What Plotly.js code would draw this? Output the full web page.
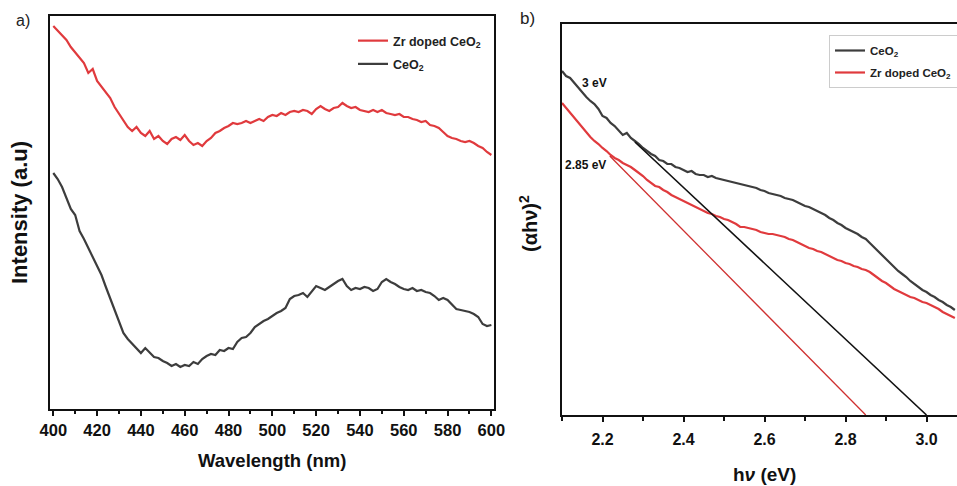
<!DOCTYPE html>
<html>
<head>
<meta charset="utf-8">
<script src="https://cdn.plot.ly/plotly-3.0.1.min.js"></script>
<style>html,body{margin:0;padding:0;background:#fff;}#chart{width:957px;height:486px;}</style>
</head>
<body>
<div id="chart"></div>
<script>
// ---------- Panel a) : emission spectra ----------
const wavelength = [400,402,404,406,408,410,412,414,416,418,420,422,424,426,428,430,432,434,436,438,440,442,444,446,448,450,452,454,456,458,460,462,464,466,468,470,472,474,476,478,480,482,484,486,488,490,492,494,496,498,500,502,504,506,508,510,512,514,516,518,520,522,524,526,528,530,532,534,536,538,540,542,544,546,548,550,552,554,556,558,560,562,564,566,568,570,572,574,576,578,580,582,584,586,588,590,592,594,596,598,600];
const zrDopedA = [383,378,374,369,362,357,352,346,336,340,328,322,317,311,302,295,289,282,278,282,276,273,278,270,273,268,265,270,272,269,274,268,264,266,263,268,271,276,278,281,283,286,285,286,288,286,288,290,288,292,294,293,296,294,297,298,297,299,298,295,300,303,300,298,301,302,306,303,301,302,299,298,297,299,297,299,296,295,294,295,292,292,290,289,287,288,284,283,281,277,273,271,270,268,267,268,266,263,261,257,254];
const ceo2A = [236,230,222,211,200,194,178,170,161,151,143,134,122,110,98,87,76,70,65,60,56,61,57,52,51,48,46,43,45,42,44,43,47,45,50,53,55,54,59,58,61,60,67,71,72,76,82,85,88,90,93,96,98,101,110,113,114,116,112,118,123,121,119,122,125,128,130,123,119,121,120,122,121,118,120,127,130,127,125,122,120,119,121,118,119,117,116,113,109,111,109,104,100,99,98,97,95,92,85,83,84];
const wlTicks = [400,420,440,460,480,500,520,540,560,580,600];

// ---------- Panel b) : Tauc plot ----------
const energy = [2.10,2.11,2.12,2.13,2.14,2.15,2.16,2.17,2.18,2.19,2.20,2.21,2.22,2.23,2.24,2.25,2.26,2.27,2.28,2.29,2.30,2.31,2.32,2.33,2.34,2.35,2.36,2.37,2.38,2.39,2.40,2.41,2.42,2.43,2.44,2.45,2.46,2.47,2.48,2.49,2.50,2.51,2.52,2.53,2.54,2.55,2.56,2.57,2.58,2.59,2.60,2.61,2.62,2.63,2.64,2.65,2.66,2.67,2.68,2.69,2.70,2.71,2.72,2.73,2.74,2.75,2.76,2.77,2.78,2.79,2.80,2.81,2.82,2.83,2.84,2.85,2.86,2.87,2.88,2.89,2.90,2.91,2.92,2.93,2.94,2.95,2.96,2.97,2.98,2.99,3.00,3.01,3.02,3.03,3.04,3.05,3.06,3.07];
const ceo2B = [344,339,337,332,328,322,318,314,311,306,299,297,292,289,284,280,282,277,274,271,267,264,261,259,255,254,251,251,248,247,245,243,244,241,240,240,238,239,237,236,235,234,233,232,231,230,229,228,227,225,224,222,221,220,219,217,216,215,213,211,209,208,206,204,202,200,197,195,192,190,187,185,183,181,178,176,172,168,164,159,155,151,147,144,141,138,134,131,128,125,123,120,118,115,113,110,108,105];
const zrDopedB = [312,307,302,297,292,287,283,278,274,271,267,264,260,257,255,252,250,248,245,242,239,235,232,229,228,225,223,220,218,216,214,212,210,208,206,204,202,201,199,198,196,195,193,191,188,188,187,186,185,183,182,181,181,180,179,178,176,175,173,171,169,167,166,164,163,161,159,157,155,154,152,151,149,148,146,145,143,140,137,134,132,129,126,124,122,120,118,117,115,113,112,110,108,106,103,101,99,97];
const ceo2FitX = [2.28, 3.0];
const ceo2FitY = [273, 0];
const zrFitX = [2.218, 2.85];
const zrFitY = [259, 0];
const eTicks = [2.2, 2.4, 2.6, 2.8, 3.0];
const eTickText = ['2.2','2.4','2.6','2.8','3.0'];

const RED = '#e03a3d';
const DARK = '#3d3d3d';
const SANS = '"Liberation Sans", Arial, sans-serif';

const traces = [
  {x: wavelength, y: zrDopedA, type: 'scatter', mode: 'lines', name: 'Zr doped CeO<sub>2</sub>',
   line: {color: RED, width: 2.2}, xaxis: 'x', yaxis: 'y', legend: 'legend', legendgroup: 'a1'},
  {x: wavelength, y: ceo2A, type: 'scatter', mode: 'lines', name: 'CeO<sub>2</sub>',
   line: {color: DARK, width: 2.2}, xaxis: 'x', yaxis: 'y', legend: 'legend', legendgroup: 'a2'},
  {x: energy, y: ceo2B, type: 'scatter', mode: 'lines', name: 'CeO<sub>2</sub>',
   line: {color: DARK, width: 2.2}, xaxis: 'x2', yaxis: 'y2', legend: 'legend2', legendgroup: 'b1'},
  {x: energy, y: zrDopedB, type: 'scatter', mode: 'lines', name: 'Zr doped CeO<sub>2</sub>',
   line: {color: RED, width: 2.2}, xaxis: 'x2', yaxis: 'y2', legend: 'legend2', legendgroup: 'b2'},
  {x: ceo2FitX, y: ceo2FitY, type: 'scatter', mode: 'lines', showlegend: false,
   line: {color: '#111111', width: 1.6}, xaxis: 'x2', yaxis: 'y2'},
  {x: zrFitX, y: zrFitY, type: 'scatter', mode: 'lines', showlegend: false,
   line: {color: '#cf3030', width: 1.3}, xaxis: 'x2', yaxis: 'y2'}
];

const W = 957, H = 486;
const px = v => v / W;
const py = v => 1 - v / H;
const ann = (text, x, y, font, extra) => Object.assign({
  text: text, xref: 'paper', yref: 'paper', x: px(x), y: py(y),
  xanchor: 'center', yanchor: 'middle', showarrow: false, font: font
}, extra || {});

const layout = {
  width: W, height: H,
  margin: {l: 0, r: 0, t: 0, b: 0, autoexpand: false},
  paper_bgcolor: '#ffffff', plot_bgcolor: '#ffffff',
  showlegend: true,
  xaxis: {
    domain: [px(50), px(494)], range: [398.5, 601.2],
    tickmode: 'array', tickvals: wlTicks, ticktext: wlTicks.map(String),
    ticks: 'outside', ticklen: 5, tickwidth: 2, tickcolor: '#111',
    minor: {dtick: 10, tick0: 400, ticks: 'outside', ticklen: 3, tickwidth: 2, tickcolor: '#111'},
    showline: true, linecolor: '#111', linewidth: 2, mirror: true,
    showgrid: false, zeroline: false,
    tickfont: {family: SANS, size: 16.5, color: '#111', weight: 'bold'}
  },
  yaxis: {
    domain: [py(409), py(16)], range: [0, 393],
    showticklabels: false, ticks: '',
    showline: true, linecolor: '#111', linewidth: 2, mirror: true,
    showgrid: false, zeroline: false
  },
  xaxis2: {
    domain: [px(562), 1], range: [2.1, 3.0753], anchor: 'y2',
    tickmode: 'array', tickvals: eTicks, ticktext: eTickText,
    ticks: 'outside', ticklen: 5, tickwidth: 2, tickcolor: '#111', ticklabelstandoff: 4,
    minor: {dtick: 0.1, tick0: 2.1, ticks: 'outside', ticklen: 4, tickwidth: 2, tickcolor: '#111'},
    showline: true, linecolor: '#111', linewidth: 2, mirror: true,
    showgrid: false, zeroline: false,
    tickfont: {family: SANS, size: 16, color: '#111', weight: 'bold'}
  },
  yaxis2: {
    domain: [py(415), py(24)], range: [0, 391], anchor: 'x2',
    showticklabels: false, ticks: '',
    showline: true, linecolor: '#111', linewidth: 2, mirror: false,
    showgrid: false, zeroline: false
  },
  legend: {
    x: px(353), y: py(26), xanchor: 'left', yanchor: 'top',
    bgcolor: 'rgba(0,0,0,0)', borderwidth: 0,
    traceorder: 'grouped', tracegroupgap: 4,
    font: {family: SANS, size: 12.5, color: '#222', weight: 'bold'}
  },
  legend2: {
    x: px(829), y: py(35), xanchor: 'left', yanchor: 'top',
    bgcolor: '#ffffff', bordercolor: '#cccccc', borderwidth: 1,
    traceorder: 'grouped', tracegroupgap: 3,
    font: {family: SANS, size: 11.5, color: '#222', weight: 'bold'}
  },
  annotations: [
    ann('a)', 23, 21, {family: SANS, size: 16, color: '#222'}),
    ann('b)', 527, 19, {family: SANS, size: 17, color: '#222'}),
    ann('Intensity (a.u)', 20, 213, {family: SANS, size: 22, color: '#111', weight: 'bold'}, {textangle: -90}),
    ann('Wavelength (nm)', 272, 460, {family: SANS, size: 18.5, color: '#111', weight: 'bold'}),
    ann('(αhν)<sup>2</sup>', 528, 224, {family: SANS, size: 20, color: '#111', weight: 'bold'}, {textangle: -90}),
    ann('h<i>ν</i> (eV)', 764, 474, {family: SANS, size: 19, color: '#111', weight: 'bold'}),
    {text: '3 eV', xref: 'x2', yref: 'y2', x: 2.181, y: 332, xanchor: 'center', yanchor: 'middle', showarrow: false,
     font: {family: SANS, size: 12, color: '#111', weight: 'bold'}},
    {text: '2.85 eV', xref: 'x2', yref: 'y2', x: 2.159, y: 250, xanchor: 'center', yanchor: 'middle', showarrow: false,
     font: {family: SANS, size: 12, color: '#111', weight: 'bold'}}
  ]
};

Plotly.newPlot('chart', traces, layout, {displayModeBar: false, staticPlot: true});
</script>
</body>
</html>
